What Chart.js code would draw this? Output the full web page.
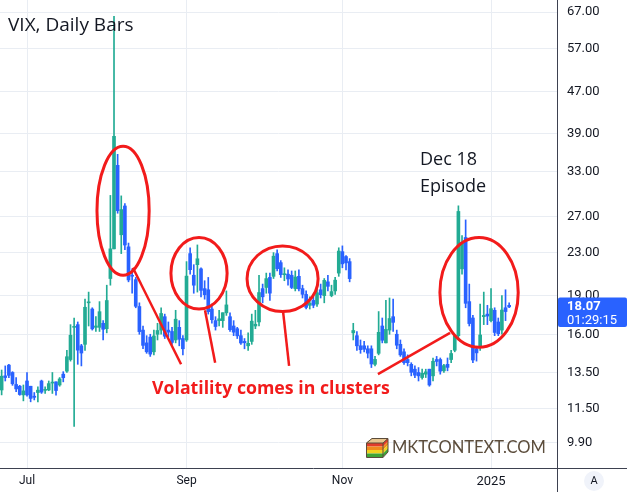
<!DOCTYPE html>
<html>
<head>
<meta charset="utf-8">
<script src="https://cdn.jsdelivr.net/npm/chart.js@4.4.1/dist/chart.umd.min.js"></script>
<style>
  html, body { margin: 0; padding: 0; background: #fff; }
  #wrap { width: 627px; height: 492px; }
</style>
</head>
<body>
<div id="wrap"><canvas id="vixChart" width="627" height="492"></canvas></div>
<script>
// VIX daily bars, Jun 20 2024 .. Jan 10 2025
const dates = [
  "2024-06-20","2024-06-21","2024-06-24","2024-06-25","2024-06-26","2024-06-27","2024-06-28",
  "2024-07-01","2024-07-02","2024-07-03","2024-07-05","2024-07-08","2024-07-09","2024-07-10","2024-07-11","2024-07-12",
  "2024-07-15","2024-07-16","2024-07-17","2024-07-18","2024-07-19","2024-07-22","2024-07-23","2024-07-24","2024-07-25","2024-07-26",
  "2024-07-29","2024-07-30","2024-07-31","2024-08-01","2024-08-02","2024-08-05","2024-08-06","2024-08-07","2024-08-08","2024-08-09",
  "2024-08-12","2024-08-13","2024-08-14","2024-08-15","2024-08-16","2024-08-19","2024-08-20","2024-08-21","2024-08-22","2024-08-23",
  "2024-08-26","2024-08-27","2024-08-28","2024-08-29","2024-08-30","2024-09-03","2024-09-04","2024-09-05","2024-09-06",
  "2024-09-09","2024-09-10","2024-09-11","2024-09-12","2024-09-13","2024-09-16","2024-09-17","2024-09-18","2024-09-19","2024-09-20",
  "2024-09-23","2024-09-24","2024-09-25","2024-09-26","2024-09-27","2024-09-30","2024-10-01","2024-10-02","2024-10-03","2024-10-04",
  "2024-10-07","2024-10-08","2024-10-09","2024-10-10","2024-10-11","2024-10-14","2024-10-15","2024-10-16","2024-10-17","2024-10-18",
  "2024-10-21","2024-10-22","2024-10-23","2024-10-24","2024-10-25","2024-10-28","2024-10-29","2024-10-30","2024-10-31","2024-11-01",
  "2024-11-04","2024-11-05","2024-11-06","2024-11-07","2024-11-08","2024-11-11","2024-11-12","2024-11-13","2024-11-14","2024-11-15",
  "2024-11-18","2024-11-19","2024-11-20","2024-11-21","2024-11-22","2024-11-25","2024-11-26","2024-11-27","2024-11-29",
  "2024-12-02","2024-12-03","2024-12-04","2024-12-05","2024-12-06","2024-12-09","2024-12-10","2024-12-11","2024-12-12","2024-12-13",
  "2024-12-16","2024-12-17","2024-12-18","2024-12-19","2024-12-20","2024-12-23","2024-12-24","2024-12-26","2024-12-27","2024-12-30",
  "2024-12-31","2025-01-02","2025-01-03","2025-01-06","2025-01-07","2025-01-08","2025-01-10"
];
const open = [
  12.49,13.30,13.95,13.50,12.80,12.70,12.22,
  13.00,12.70,12.15,12.35,13.00,12.47,12.49,12.88,12.95,
  12.77,13.40,13.58,14.30,16.50,16.70,15.20,15.30,18.40,17.90,
  16.50,16.50,16.80,16.40,20.50,23.39,33.90,24.90,28.30,23.60,
  20.80,20.40,18.10,16.30,15.40,15.80,14.80,16.00,16.30,17.30,
  16.30,16.20,15.60,16.50,15.70,15.60,22.90,20.80,21.80,
  21.40,19.60,19.50,17.90,17.00,17.00,17.00,17.60,17.30,16.60,
  16.40,15.90,15.50,15.20,15.50,16.60,16.90,19.60,19.70,20.60,
  20.70,22.90,22.00,20.85,20.90,20.80,19.60,20.70,19.60,19.10,
  18.20,18.60,18.30,19.50,19.00,20.20,19.00,19.40,21.00,23.10,
  22.60,22.10,16.10,15.90,15.20,15.20,15.00,15.00,14.00,14.70,
  16.60,15.40,16.30,17.30,16.00,15.30,14.80,14.30,14.00,
  13.70,13.50,13.20,13.40,13.70,13.30,14.30,14.30,13.60,14.00,
  14.30,14.90,15.90,21.40,24.60,18.50,17.20,15.00,15.10,17.30,
  17.50,17.00,17.80,16.90,16.30,18.00,18.20
];
const high = [
  13.65,13.90,14.00,13.55,13.20,12.75,12.77,
  13.50,12.70,12.35,12.66,13.05,12.66,13.00,13.50,12.95,
  13.20,13.55,14.90,16.70,17.20,16.90,15.30,18.70,19.30,18.00,
  17.30,18.50,17.00,19.90,29.66,65.73,35.60,29.60,28.60,24.00,
  21.40,20.60,18.40,16.60,15.90,16.00,16.30,16.80,18.00,17.50,
  16.90,16.50,17.80,17.00,15.90,22.10,23.50,21.80,23.80,
  21.50,20.30,20.60,18.30,17.30,17.80,17.60,19.40,17.60,17.00,
  16.50,16.30,15.70,16.10,17.50,17.80,20.80,20.00,21.00,21.00,
  23.00,23.30,22.20,21.50,21.30,21.20,21.20,21.30,19.90,19.40,
  18.90,19.00,19.70,20.00,20.50,20.80,19.90,20.60,23.50,23.70,
  22.70,22.40,16.80,16.20,15.60,15.50,15.20,15.20,14.50,17.70,
  17.20,18.60,18.80,18.70,16.30,15.60,15.00,14.60,14.10,
  13.90,13.80,13.70,13.70,13.70,14.40,14.50,14.40,14.00,14.40,
  14.90,15.90,28.32,24.80,26.60,20.00,17.40,15.10,18.30,19.30,
  18.20,19.60,18.00,17.20,19.00,19.50,18.40
];
const low = [
  12.22,13.00,13.20,12.75,12.40,12.20,11.90,
  12.15,11.85,11.95,11.85,12.30,12.30,12.45,12.30,12.20,
  12.70,12.95,13.50,14.20,10.62,14.00,13.90,14.90,16.60,16.30,
  16.20,16.20,15.60,16.10,19.90,23.39,27.40,22.90,23.30,20.20,
  19.20,18.00,16.00,15.00,14.70,14.50,14.60,15.60,16.00,15.70,
  15.80,15.30,15.40,15.20,14.60,15.50,20.90,19.20,19.30,
  18.90,18.70,17.50,16.80,16.30,16.60,16.50,17.40,16.20,15.90,
  15.70,15.30,15.00,14.90,15.30,16.40,16.60,18.40,19.20,18.60,
  20.50,21.20,20.60,20.30,19.90,19.60,19.40,19.40,18.80,17.90,
  17.90,18.00,18.10,18.80,18.40,19.40,18.90,19.10,20.70,21.50,
  21.30,20.20,15.60,14.90,14.70,14.80,14.40,13.80,13.90,14.60,
  15.40,15.40,16.00,16.20,15.00,14.50,14.00,13.90,13.30,
  13.20,13.00,13.10,13.20,12.70,13.00,13.90,13.40,13.50,13.60,
  14.10,14.80,15.60,20.90,18.00,16.60,14.10,14.20,14.90,16.70,
  16.70,16.90,15.90,15.90,16.00,17.00,18.00
];
const close = [
  13.28,13.20,13.33,12.84,12.55,12.24,12.44,
  12.22,12.03,12.09,12.48,12.37,12.51,12.85,12.89,12.46,
  13.12,13.19,14.48,15.93,16.52,14.91,14.72,18.04,18.46,16.39,
  16.60,17.69,16.36,18.59,23.39,38.57,27.71,27.85,23.79,20.37,
  20.71,18.12,16.19,15.23,14.80,14.65,15.88,16.27,17.55,15.86,
  16.15,15.43,17.11,15.65,15.00,20.72,21.32,19.90,22.38,
  19.45,19.08,17.69,17.07,16.56,17.14,17.61,18.23,16.33,16.15,
  15.89,15.39,15.41,15.37,16.96,16.73,19.26,18.90,20.49,19.21,
  22.64,21.42,20.86,20.93,20.46,19.70,20.64,19.58,19.11,18.03,
  18.37,18.20,19.24,19.08,20.33,19.80,19.34,20.35,23.16,21.88,
  21.98,20.49,16.27,15.20,14.94,14.97,14.71,14.02,14.31,16.14,
  15.58,16.35,17.16,16.87,15.24,14.60,14.10,14.10,13.51,
  13.34,13.30,13.45,13.54,12.77,14.19,14.18,13.58,13.92,13.81,
  14.69,15.87,27.62,24.09,18.36,16.78,14.27,14.73,15.95,17.40,
  17.35,17.93,16.13,16.04,17.82,17.70,18.07
];
// price axis labels (log scale)
const priceTicks = [9.9, 11.5, 13.5, 16, 19, 23, 27, 33, 39, 47, 57, 67];
const monthNames = ["Jan","Feb","Mar","Apr","May","Jun","Jul","Aug","Sep","Oct","Nov","Dec"];
const shownMonths = ["2024-07","2024-09","2024-11","2025-01"];
const barCountdown = "01:29:15";

const UP = "#22ab94";
const DOWN = "#2962ff";
const RED = "#f21b1b";

// first bar of each labelled month -> time axis label
const monthTicks = {};
shownMonths.forEach(function (m) {
  const i = dates.findIndex(d => d.startsWith(m));
  const mo = parseInt(m.slice(5), 10);
  monthTicks[i] = mo === 1 ? m.slice(0, 4) : monthNames[mo - 1];
});

const colorOf = i => (close[i] >= open[i] ? UP : DOWN);

// annotation rings and pointers, in bar index / price units
const rings = [
  { from: 26.3, to: 40.7, top: 36.9, bottom: 20.8 },
  { from: 46.7, to: 62.2, top: 24.6, bottom: 17.9 },
  { from: 67.7, to: 87.3, top: 23.7, bottom: 17.7 },
  { from: 120.9, to: 142.5, top: 24.6, bottom: 15.1 }
];
const pointers = [
  [36.2, 21.5, 49.5, 14.0],
  [56.1, 17.8, 58.9, 14.1],
  [77.6, 17.8, 79.3, 13.9],
  [123.7, 16.1, 103.8, 13.4]
];

function fitFont(ctx, text, weight, family, width) {
  ctx.font = weight + " 20px " + family;
  const w = ctx.measureText(text).width;
  return weight + " " + (20 * width / w).toFixed(2) + "px " + family;
}

function drawLogo(ctx, lx, ly) {
  // little stack of books, drawn as layered slabs
  const layers = ["#e23b2a", "#f08a1c", "#f2d21e", "#3fa535"];
  ctx.fillStyle = "#e8c58e";
  ctx.beginPath();
  ctx.moveTo(lx, ly + 5);
  ctx.lineTo(lx + 6, ly);
  ctx.lineTo(lx + 22, ly);
  ctx.lineTo(lx + 17, ly + 5);
  ctx.closePath();
  ctx.fill();
  layers.forEach(function (c, k) {
    ctx.fillStyle = c;
    ctx.fillRect(lx, ly + 5 + k * 3.5, 17, 3.5);
    ctx.beginPath();
    ctx.moveTo(lx + 17, ly + 5 + k * 3.5);
    ctx.lineTo(lx + 22, ly + k * 3.5);
    ctx.lineTo(lx + 22, ly + 3.5 + k * 3.5);
    ctx.lineTo(lx + 17, ly + 8.5 + k * 3.5);
    ctx.closePath();
    ctx.fill();
  });
  ctx.strokeStyle = "#5b4c3b";
  ctx.lineWidth = 1;
  ctx.beginPath();
  ctx.moveTo(lx + 0.5, ly + 5);
  ctx.lineTo(lx + 6, ly + 0.5);
  ctx.lineTo(lx + 22, ly + 0.5);
  ctx.lineTo(lx + 22, ly + 14);
  ctx.lineTo(lx + 17, ly + 19.5);
  ctx.lineTo(lx + 0.5, ly + 19.5);
  ctx.closePath();
  ctx.moveTo(lx + 0.5, ly + 5);
  ctx.lineTo(lx + 17, ly + 5);
  ctx.lineTo(lx + 22, ly + 0.5);
  ctx.moveTo(lx + 17, ly + 5);
  ctx.lineTo(lx + 17, ly + 19.5);
  ctx.stroke();
}

const overlay = {
  id: "overlay",
  afterDraw(chart) {
    const ctx = chart.ctx;
    const xs = chart.scales.x, ys = chart.scales.y;
    const area = chart.chartArea;
    ctx.save();

    // annotation rings
    ctx.strokeStyle = RED;
    ctx.lineWidth = 3;
    rings.forEach(function (r) {
      const x0 = xs.getPixelForValue(r.from), x1 = xs.getPixelForValue(r.to);
      const y0 = ys.getPixelForValue(r.top), y1 = ys.getPixelForValue(r.bottom);
      ctx.beginPath();
      ctx.ellipse((x0 + x1) / 2, (y0 + y1) / 2, (x1 - x0) / 2, (y1 - y0) / 2, 0, 0, Math.PI * 2);
      ctx.stroke();
    });
    ctx.lineWidth = 2.5;
    pointers.forEach(function (p) {
      ctx.beginPath();
      ctx.moveTo(xs.getPixelForValue(p[0]), ys.getPixelForValue(p[1]));
      ctx.lineTo(xs.getPixelForValue(p[2]), ys.getPixelForValue(p[3]));
      ctx.stroke();
    });

    // texts
    ctx.textBaseline = "middle";
    ctx.textAlign = "left";
    ctx.fillStyle = RED;
    ctx.font = fitFont(ctx, "Volatility comes in clusters", "bold", "'Open Sans'", 238);
    ctx.fillText("Volatility comes in clusters", 152, 389);

    ctx.fillStyle = "#131722";
    ctx.font = "19px 'Open Sans'";
    ctx.fillText("VIX, Daily Bars", 8, 26);
    ctx.font = "18px 'Open Sans'";
    ctx.fillText("Dec 18", 420, 160);
    ctx.fillText("Episode", 420, 187);

    // logo
    drawLogo(ctx, 366, 438);
    ctx.fillStyle = "#5b4c3b";
    ctx.font = fitFont(ctx, "MKTCONTEXT.COM", "normal", "Lato", 154);
    ctx.fillText("MKTCONTEXT.COM", 392, 448);

    // axis borders
    ctx.strokeStyle = "#3d4150";
    ctx.lineWidth = 1;
    ctx.beginPath();
    ctx.moveTo(0, Math.round(area.bottom) + 0.5);
    ctx.lineTo(chart.width, Math.round(area.bottom) + 0.5);
    ctx.moveTo(Math.round(area.right) + 0.5, 0);
    ctx.lineTo(Math.round(area.right) + 0.5, chart.height);
    ctx.stroke();

    // last price label
    const last = close.length - 1;
    const py = ys.getPixelForValue(close[last]);
    ctx.fillStyle = DOWN;
    ctx.beginPath();
    ctx.roundRect(area.right + 1, py - 9.5, chart.width - area.right - 1, 29.5, 2);
    ctx.fill();
    ctx.fillStyle = "#ffffff";
    ctx.font = "bold 13px Roboto";
    ctx.fillText(close[last].toFixed(2), area.right + 10, py);
    ctx.font = "13px Roboto";
    ctx.fillText(barCountdown, area.right + 10, py + 14);

    // auto-scale button
    ctx.fillStyle = "#f0f3fa";
    ctx.beginPath();
    ctx.arc(594, 481, 10, 0, Math.PI * 2);
    ctx.fill();
    ctx.fillStyle = "#131722";
    ctx.textAlign = "center";
    ctx.font = "11px Roboto";
    ctx.fillText("A", 594, 481.5);

    ctx.restore();
  }
};

const bodies = dates.map((d, i) => ({ x: i, y: [open[i], close[i]] }));
const wicks = dates.map((d, i) => ({ x: i, y: [low[i], high[i]] }));

new Chart(document.getElementById("vixChart"), {
  type: "bar",
  data: {
    datasets: [
      {
        label: "body",
        data: bodies,
        backgroundColor: ctx => colorOf(ctx.dataIndex),
        barThickness: 3,
        minBarLength: 1,
        grouped: false
      },
      {
        label: "wick",
        data: wicks,
        backgroundColor: ctx => colorOf(ctx.dataIndex),
        barThickness: 1,
        minBarLength: 1,
        grouped: false
      }
    ]
  },
  options: {
    responsive: false,
    animation: false,
    devicePixelRatio: 1,
    layout: { padding: 0 },
    plugins: { legend: { display: false }, tooltip: { enabled: false } },
    scales: {
      x: {
        type: "linear",
        min: -0.45,
        max: 153.2,
        offset: false,
        afterBuildTicks: s => { s.ticks = Object.keys(monthTicks).map(k => ({ value: +k })); },
        afterFit: s => { s.height = 24; s.paddingLeft = 0; s.paddingRight = 0; },
        border: { display: false },
        grid: { color: "#e9edf3", drawTicks: false, offset: false },
        ticks: {
          autoSkip: false,
          maxRotation: 0,
          padding: 6,
          color: "#131722",
          font: ctx => (ctx.tick && /^\d+$/.test(monthTicks[ctx.tick.value] || "")
            ? { family: "Roboto", size: 13 }
            : { family: "Roboto", size: 12 }),
          callback: v => monthTicks[v] || ""
        }
      },
      y: {
        type: "logarithmic",
        position: "right",
        min: 8.83,
        max: 70.7,
        afterBuildTicks: s => { s.ticks = priceTicks.map(v => ({ value: v })); },
        afterFit: s => { s.width = 70; s.paddingTop = 0; s.paddingBottom = 0; },
        border: { display: false },
        grid: { color: "#e9edf3", drawTicks: false },
        ticks: {
          autoSkip: false,
          padding: 10,
          color: "#131722",
          font: { family: "Roboto", size: 13 },
          callback: v => Number(v).toFixed(2)
        }
      }
    }
  },
  plugins: [overlay]
});
</script>
</body>
</html>
